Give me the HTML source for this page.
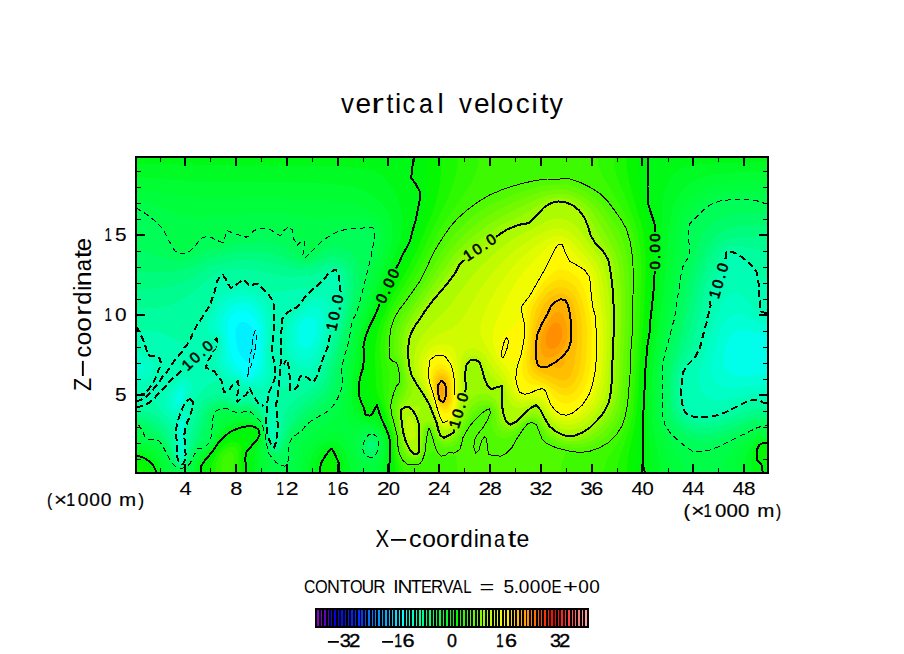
<!DOCTYPE html><html><head><meta charset="utf-8"><style>html,body{margin:0;padding:0;background:#fff;width:904px;height:654px;overflow:hidden}</style></head><body><svg width="904" height="654" viewBox="0 0 904 654" style="position:absolute;left:0;top:0"><rect x="0" y="0" width="904" height="654" fill="#fff"/><rect x="135" y="156" width="634" height="318" fill="#10f800"/><rect x="135" y="156" width="634" height="318" fill="#00f0ff"/><path fill="#00ffff" fill-rule="evenodd" d="M768.5 473.5l-633 0l0-317l633 0l0 317zM249.7 363.5l1.8-3.5l2.6-11.5l1-9l-0.1-7l-4.5-6.4l-2.7-2.6l-3.3-1.6l-3 0l-3.8 2.6l-2 5l-0.3 6l1.1 8.8l1.7 6.2l2.3 4.7l4 4.7l5.2 3.6z"/><path fill="#00ffea" fill-rule="evenodd" d="M768.5 473.5l-633 0l0-317l633 0l0 317zM250.1 376.5l4.8-6l2.8-8l2.5-20l-0.2-11l-3.5-10l-4-6.2l-6-4.1l-6-0.6l-4 1.2l-3.7 2.7l-3 4l-1.5 4l-0.4 7l2.8 21l1.8 7.4l3.8 6.6l9.5 12l1.7 0.9l2.6-0.9z"/><path fill="#00ffd4" fill-rule="evenodd" d="M768.5 473.5l-633 0l0-317l633 0l0 177.3l-8-0.6l-16-3.5l-5 0.3l-3.9 1.5l-4.5 4l-3.7 6l-2.9 8.5l-1.1 8.5l0.7 6l2.1 5l3.3 3.5l4 2l5 1.1l5 0.1l25-2.4l0 99.7zM250.4 379.5l3.1-1.2l3.6-2.8l2.7-4l1.7-5l1.3-8l0.9-16l-0.4-15l-2.8-11.1l-2-4.1l-3-4l-3-2.6l-4-2.1l-4-1l-5 0.1l-7 2.3l-6.2 5.5l-4 8l-0.8 8l3.6 13l1.1 17l2.3 7l4.6 6l11.4 8.9l3 1.2l2.9-0.1zM306.2 348.5l3.3-1.6l3-3.4l2.4-5l1.5-6l0.5-5l-0.6-5l-1.8-3.5l-3-1.9l-4 0.2l-5 3.1l-3.3 4.1l-2.1 6l-0.2 7l1.7 6l3.3 4l4.3 1zM178.8 403.5l1.7-1.7l2-5.3l0-3.3l-1-1.7l-1-0.3l-2.9 2.3l-1.3 4l0.5 5l0.7 1l1.3 0zM180.5 440.5l2.4-16l-0.4-3.6l-1 0.5l-1 2l-1 4.1l1 13z"/><path fill="#00ffc4" fill-rule="evenodd" d="M768.5 473.5l-633 0l0-101.8l7-0.7l1.8-1.5l0.7-2l-0.7-2l-1.8-1.4l-7-0.9l0-206.7l633 0l0 167.4l-5-0.3l-5-1.2l-18-8.5l-6 0.1l-4.7 2.5l-6.3 7.7l-5.6 12.3l-5.3 19l-1.7 13l1 7l2.1 5l4.5 4.8l5 2.5l10 1l22-3l13-0.7l0 88.4zM254.6 382.5l3.9-1.6l3-2.6l2.8-4.8l1.4-5l1.5-35l-1.2-16l-3.5-10l-6-7l-4-2.5l-5-1.7l-5-0.5l-5 0.6l-8 2.5l-5 3.7l-5.5 7.9l-3.5 9l-0.5 4l0.4 4l5.2 9l1.4 4l-0.5 20l3 7.1l6 6.3l9 4.1l6 4l4 0.8l5.1-0.3zM308.1 358.5l4.4-3.3l5.1-7.7l3-8l2.6-13l0.4-7l-1.2-6l-2.9-4.3l-4-2l-3 0l-4 1.4l-10.7 7.9l-4.5 6l-2.3 8l0.2 12l1.1 5l2.2 4.5l3 3.8l4 2.7l3 0.7l3.6-0.7zM177.6 409.5l3.9-5l4.9-11l0.2-3l-0.8-3l-1.3-1.8l-2-1.2l-3 0.4l-3 2.4l-2.7 4.2l-1.8 5l-0.3 5l1 4l2.8 3.9l2.1 0.1zM181.7 454.5l1.4-5l-0.1-19l2-11l-0.4-3l-1.1-0.8l-3 3.9l-2.3 8.9l0.8 22l1.5 4l1.2 0z"/><path fill="#00ffb4" fill-rule="evenodd" d="M768.5 473.5l-633 0l0-90.1l7-0.8l5-2.9l4.5-6.2l1.8-7l-0.5-3l-2.4-3l-5-3l-5.4-4.5l-5-0.8l0-195.7l633 0l0 161.2l-6-0.7l-4.6-2.5l-2.9-3l-8.5-12l-6-5l-3-1.1l-4 0l-6 2.9l-3 3.1l-3 4.8l-5.6 13.3l-10.2 33l-6 17l-1.6 10l0.9 8l3.5 7.4l5 4.7l7 2.9l6 0.6l6-0.6l27-6.7l15-0.1l0 79.8zM259.6 387.5l3.9-2.2l3-3.7l2.4-5.1l1.1-5l-0.3-24l0.9-26l-0.6-8l-1.5-6.2l-2.3-4.8l-3.7-4.8l-5-4.2l-4-1.9l-11-2l-17 3.6l-4 2.6l-4 5.7l-7.5 15l-2.4 8l0.3 5l1.5 3l2.4 2l5.7 2.5l1.9 3.5l-0.1 5l-3.3 13l0.5 6l5.1 8l6.1 6l2.8 1l8 0.6l4 4.2l3 1.7l11 1.8l3.1-0.3zM309.7 367.5l2.8-1.8l3-3.7l6.9-13.5l2.4-7l5.5-23l0.1-8l-1.9-6.9l-3.1-4.1l-4.9-2.2l-5 0.4l-5 2.4l-17 13.9l-5 6.4l-2.2 7.1l-0.5 8l0.4 11l0.6 4l1.6 4l6.1 8.7l4 3.7l6 1.5l5.2-0.9zM176.4 415.5l2.1-2.5l7.3-13.5l4.3-5l1.7-4l0.4-4l-1.3-4l-2.4-2.8l-3-1.4l-5 0.5l-5 3.5l-5.7 7.2l-3.3 7l-0.3 6l2.1 6l4.6 6l1.6 1.1l1.9-0.1zM182.8 458.5l1.2-3l0.4-5l-0.6-7l0.3-13l3.2-15l-0.5-3l-1.3-1.4l-2 0.5l-2.6 3.9l-2.7 7l-1 5l0.6 25l2.1 6l1.6 0.9l1.3-0.9z"/><path fill="#00fea1" fill-rule="evenodd" d="M768.5 473.5l-633 0l0-69.4l8.3-0.6l8.7-3.5l19.2 22.5l2.3 3l1 3l1.3 24l1.3 6l1.9 3.2l3 1.3l2.8-5.5l1.1-28l5.5-20l0.4-8l13.2-14.9l4-2.9l5-1.9l5-0.4l5.3 9.1l2.7-0.2l5-2.7l4 1.6l1 2l0.4 6.3l0.6 1.2l5-2.6l6-4.4l10 10.8l3 1.4l4-0.3l1 0.6l0.9 3.3l0.1 17l1 9.6l3 6l1 0l2-7.6l0.3-31l3.1-13l1.6-1.6l8-1.1l3 3l2-0.2l3-2.1l3-6.5l2-2.5l4 0l7 2.7l2-1.1l2-2.8l11.7-30.8l1.9-11l4.9-10l3.5-9l1.4-9l0.3-10l-1.9-18l-1.8-4.3l-2-1.9l-1.8 0.2l-3.4 2l-10.5 10l-7.3 5l-8-0.7l-7 0.2l-27 4.5l-2-1l-10-8.6l-7 0.6l-5-3.4l-3-0.7l-7 3.9l-4 0.8l-2-1l-5-5.8l-2-1.2l-3 2l-2 3l-9 24.5l-11.7 17.9l-7.3 14.8l-3 3.6l-8-1.9l-15-6.9l-7-2.4l-8-0.6l-8 1.7l-3-2.4l-2 0l0-173.9l633 0l0 123.3l-8-0.4l-1-0.7l-2.2-5.2l-3.5-5l-8.3-8l-5.5-4l-3.5-2l-5-1.3l-2.5 0.3l-1.1 1l-5 12l-9.4 18.3l-2 5.2l-1.6 6.5l0.4 10l-10.2 40l-4.7 10l-6.9 8l-4.8 8l-1.5 15l0.3 15l2 6.7l4 5l8 2.4l8 0.1l13.5-2.2l8.5-3l18-8.6l9-2.9l4 0l7 2.8l4 0.2l0 70.5z"/><path fill="#00fc8e" fill-rule="evenodd" d="M768.5 473.5l-633 0l0-62.3l10 0.2l6 1.4l6 3.7l7 6.9l3.7 5.1l2.6 6l4 20l1.9 6l2.8 3.2l3 1l1.8-1.2l2.2-5l6.1-33l5.9-17.5l2.5-4.5l3.6-4l3.9-2.8l5-1.8l5-0.1l10 2.1l3 1.4l6 5l8-2.3l5 0.2l9.4 6.3l2.7 3l1.6 4l2.3 18l3 9.8l3.4 5.2l1.6 0.6l1.2-0.6l1.4-2l1.7-5l6-26l3.7-7.9l6.7-7.1l21.3-14.8l2.8-3.2l2.7-5l9.5-28.4l3.1-12.6l7.4-20l1.7-9l0.9-12l-0.4-10l-1.4-9l-3.3-5.7l-4-2.3l-6 0.4l-12 5.5l-6 1.9l-15 1.6l-16-1l-30-6.6l-9-0.4l-15 0.5l-6 1l-6 3l-23 20.3l-8 5.5l-8 4.2l-8 2.7l-8 1.6l-24 1.1l0-152.3l633 0l0 94.2l-8-0.5l-19-3.8l-8-0.5l-4 0.6l-4 1.7l-5 5.3l-9 18.3l-5.9 14.7l-2 8l-3.7 22l-6.2 24l-3.7 10l-7.5 13.9l-2.9 7.1l-1.5 10l-0.3 9l0.6 13l2.9 9l5.2 5.8l5 2.3l5 1.4l8 0.6l10-1.1l10-2.6l26-9.9l7-1l11 0.2l0 65.3z"/><path fill="#00fc7c" fill-rule="evenodd" d="M768.5 473.5l-633 0l0-57.8l7 0.5l6 1.9l6 3.7l7 6.3l4 5l3 5.7l6.8 21.7l3.5 4l3.7 1.1l2.2-1.1l2.8-5l11.6-39l3.5-9l2.4-4l3.5-3.7l4-2.5l4-1.3l5-0.3l5 0.7l11 4.7l8-0.9l4 0.3l7 3.8l4 4.1l2.5 5.1l1.7 6l1.6 11l3.2 10l2 3.3l2 1.5l2 0.1l2-1.1l2.6-3.8l7.7-21l5.5-10l7.2-8l18-15.2l4-4.8l3.4-6l19.6-66l2.4-13l0.9-13l-0.7-9l-2-7l-3.6-5l-6-3.3l-4-0.5l-4 0.4l-17 5.5l-10 1l-11-1.5l-29-7.1l-16-1.2l-16 1.4l-13 3.2l-8 3.6l-21 12.1l-15 5.6l-16 2.9l-21 0.8l0-132.9l633 0l0 80.8l-25-0.6l-12 1.4l-5 1.8l-5 2.9l-4.1 3.7l-3.9 5.3l-7.7 15.7l-6.2 17l-10.7 49l-3.7 12l-9.3 25l-1.4 9l-0.4 11l1 15l1.3 5l2.4 5l3 4l3.7 3.1l5 2.8l6 1.9l9 1l10-1.1l10-2.7l26-9.6l8-1.5l9-0.3l0 60.4z"/><path fill="#00fd69" fill-rule="evenodd" d="M768.5 473.5l-633 0l0-53.8l5 0.4l5 1.9l15 11.7l6 8.1l8 19.7l4 4l4 0.9l3.3-1.9l2.6-4l4.3-12l6.7-13l5.6-18l2.7-6l4.8-5.3l7-2.8l7 0.2l11 3.6l12-0.1l5 2.6l4.7 4.8l3.5 6l4.3 19l3.5 9l2 2l2 0.8l3-0.3l2-1.1l2.6-3.4l6.4-14.9l7.4-11.1l7.1-8l18.5-16.3l4.5-5.7l3.3-6l2.5-7l4.4-19l14.2-51l2.3-13l0.8-12l-0.8-9l-2.5-7l-4.7-5.9l-6-3.2l-5-0.9l-6 0.5l-18 6.5l-7 0.8l-6-1.2l-23-8.9l-8-1.9l-8-0.9l-20 0.7l-21 4.1l-9 2.9l-20 9.1l-11 2.8l-12 0.9l-30-0.7l0-114.7l633 0l0 68.8l-25 0.3l-14 2.7l-6 2.5l-6 3.8l-5 4.7l-4.4 6.2l-9.3 21l-5.3 16l-9.1 44l-12.2 41l-1.5 10l-0.4 13l1.1 17l1.6 6l2.4 5l3.7 5l4.4 4l6 3.6l6 2.3l9 1.2l11-1.2l11-3.3l26-10.2l8-1.7l8-0.5l0 55.8zM372.6 448.5l1-2l-0.1-2.5l-1-1.7l-2-0.4l-2 2.3l-0.1 3.3l2.1 1.9l2.1-0.9z"/><path fill="#00fe58" fill-rule="evenodd" d="M768.5 473.5l-633 0l0-50.6l4 0.3l2.6 1.3l9.1 8l9.3 6.1l4.4 5.9l6.3 14l3.2 5l4.1 3.2l4 0.7l3-1.4l2.5-2.5l7.1-15l5.6-6l2.7-4l2.4-6l3.2-14l2.2-6l3.8-4l5.5-2.3l6 0.1l11 3.3l11-0.6l3.6 1.5l6.4 6.4l4 6l4.8 20.6l2.7 7l2.5 2.7l3 1.3l3 0.1l3-1.3l2.8-3.8l3.5-10l2.7-4.8l14-15.4l20.5-16.8l4.8-6l3.8-7l2.6-8l1.7-13l2.3-11l8.6-34l6.8-22l2.7-15l1-12l-1.2-11l-3.6-7.8l-6-5.5l-8-2.6l-6 0.1l-6 1.4l-6 2.6l-13 7.6l-5 1.1l-4-1.2l-9-7.6l-8-4.7l-11-3.6l-9-1.5l-27 2.4l-13 3.7l-13.9 1.6l-6.1 2.2l-14 7.1l-9 2.1l-9-1l-24-7.6l-12-1.1l0-94.7l633 0l0 57.3l-27-0.3l-9 1.2l-8 2.3l-8 3.8l-6.2 4.7l-5.5 6l-3.9 7l-5.6 18l-6.9 19l-8.6 45l-10.8 40l-2 12l-0.6 18l1 20l1.5 6l2.6 6l4 5.5l6 5.6l7 4.6l6 2.5l9 1.3l11-1.6l12-4.2l28-12.1l8-2l6-0.3l0 51.7zM370.6 453.5l3.9-2.2l2-4.8l-1-5.5l-2-2.6l-2-0.7l-2 0.5l-2 1.9l-1.7 3.4l-0.5 3l0.2 2.4l1.3 2.6l1.7 1.5l2.1 0.5z"/><path fill="#00fe48" fill-rule="evenodd" d="M768.5 473.5l-583 0l0-5l4.7-5l7.3-14l6-2.3l6-5.7l1.4-6l2-16l1.4-5l1.4-2l3-2l2.8-1.1l4-0.2l10 3.2l5 0.1l8-0.9l2 0.9l8 7.5l3 3.9l2.2 6.6l3.8 19.3l2 4.7l6 7l4 2.7l4 1.1l2-1.1l2.1-3.7l1.7-14l1.2-4.5l2-3.8l9.6-7.7l6.4-7.1l19-12.1l4-3.5l4-5.7l5.4-12.6l1.2-7l-0.5-12l1.1-7l6.6-25l1.7-11l2-7l5.3-13l6.8-27l5.7-25l1.8-10l0.7-10l-1.6-6l-2.2-0.7l-6-0.3l-20 1.8l-8 2.3l-11 6.3l-11 9.6l-5 2.9l-3-1.6l-2-7.6l-2-0.2l-3 1l-2-0.8l-2-3.1l-3-8.7l-2-1.8l-2-0.1l-6 4.9l-2 0.6l-10-4.4l-5-0.9l-5 0l-5 1.8l-5 4.2l-3 1.3l-11-2l-7-2.1l-2 1.7l-4 7.1l-3-0.3l-10-3.6l-4 0l-5 2.3l-12.2 11.4l-3.8 1.6l-5 0.3l-3.5-1.9l-1.5-1.7l-11.7-19.3l-5.3-6l-13.7-10l-5.6-3l-2.7-0.2l0-53.8l633 0l0 46.8l-4-0.2l-8-2.2l-8-1.1l-18 0.1l-10 1.5l-11 4.3l-6.1 4.8l-12.9 13.6l-1.5 7.4l-0.2 8l0.8 10l-0.5 5l-4.8 9l-2.4 8l-7.6 48l-10.4 40l-1.2 9l-0.2 24l0.3 22l2.7 10.7l5 7.6l7.5 7.7l6.5 5.4l9 5.4l8 0.7l9-1.7l9-3.6l37-18.6l8-2.2l4-0.2l0 47.8zM175.5 473.5l-40 0l0-46.6l2 0l2 1.1l5.8 8.5l2.2 1.9l9 1.9l4 3.2l9.5 17l5.7 7l0.4 1l-0.6 5zM371 457.5l2.5-1.2l3-3l1.8-3.8l0.3-3l-0.4-5l-1.7-4.1l-2-2.3l-3-1.2l-4.1 1.6l-2.8 3l-1.8 4l-0.6 5l0.5 3l2 4l2.8 2.3l3.5 0.7z"/><path fill="#00fe3d" fill-rule="evenodd" d="M683.5 473.5l-389.4 0l0.6-7l2.3-11l2.1-6l2.7-5l4.7-5.9l6-5.7l17-11.4l4-3.3l4-5.5l3.1-7.2l4-15l1.9-24l8-38l8.8-25l14.6-53l1.7-13l-0.4-5l-1.4-5l-3.3-4.2l-5-2.8l-8-2.2l-10-1.3l-10-0.1l-26 1.1l-27-3.4l-24-0.7l-66 3.4l-10-0.7l-9-1.9l-30-11.4l-7-1.7l-7-0.6l0-44.5l633 0l0 35.1l-22-0.9l-13 0.3l-12 1.6l-9 2.5l-9 4.6l-8.3 6.8l-7.7 9.7l-3.8 8.3l-1.4 8l-1.3 19l-4.7 20l-6.9 46l-9.1 42l-1.1 12l-0.4 33l0.4 12l2.5 11l4.8 9.8l14.9 24.2l2.4 7l0.3 5l-0.6 0zM271.5 473.5l-81.3 0l0-2l1.4-5l6.9-13l7-4.9l5.3-5.1l5.7-17.2l4-6.2l3.9-2.6l4.1-1.2l16-0.6l4 0.6l5 2.5l5.8 4.7l2.5 4l1.9 8l1.6 16l5.9 16l0.7 4l-0.4 2zM369.6 464.5l4.9-3l4-5.3l2.1-5.7l0.3-6l-1.1-6l-3-5l-4.3-2.7l-5-0.6l-5.3 1.3l-4.3 3l-2.1 4l-0.5 5l1.5 8l3.7 7.8l5 4.8l4.1 0.4zM768.5 473.5l-46.5 0l0-2l1.1-6l3.5-7l5.4-7l7-7l8.5-6.6l8-4.6l7-2.3l6-0.5l0 43zM169.5 473.5l-34 0l0-33.3l5 0.5l10.8 3.8l6.5 4l5.5 7l4.3 8l2.1 6l-0.2 4z"/><path fill="#00fe32" fill-rule="evenodd" d="M669.5 473.5l-293.8 0l0.6-5l4.8-11l1.8-7l0-8l-2-7l-3.4-4.8l-5-3.2l-6-1.2l-13-0.6l-3.7-1.2l-2.6-4l-0.9-9l3.9-42l6.6-36l23.9-72l4.1-16l0.8-8l-0.4-7l-1.7-6l-3.5-6l-6.5-6.3l-8-4.5l-10-3.4l-13-2.3l-66-3.9l-78 0.4l-17-1.8l-32-5.7l-14-0.9l0-33.6l633 0l0 25.2l-25-0.1l-14 0.7l-12 1.9l-11 3.4l-9.2 4.9l-8 7l-6.6 9l-4.3 10l-2.4 11l-1.9 21l-8.8 63l-8.1 44l-1.6 20l-0.5 31l0.9 13l2.8 12l9.8 27l1.6 9l0 4l-0.7 0zM264.5 473.5l-71.1 0l0-2l1.3-6l3.8-7.7l3-3.9l10-9.2l6-12.9l4.5-6.3l3.5-2.8l5-2.2l7-1.3l7-0.3l6 1.1l5 2.4l3.6 3.1l2.3 4l1.2 7l-0.3 15l3 18l0.1 4l-0.9 0zM357.5 473.5l-55.5 0l0.3-6l1.3-7l2.5-7l3.4-6l5-5.6l6-4.7l6-3l7-2l6-0.4l4 1.7l3 5.1l10.3 27.9l0.9 4l-0.2 3zM768.5 473.5l-33.5 0l0.4-6l1.7-7l3.2-7l3.9-6l4.5-5l5.8-4.5l5-2.4l6-1.2l3 0l0 39.1zM165.5 473.5l-30 0l0-28l6 0.4l6 1.7l5 2.4l4 3l4 4.7l3.2 5.8l1.6 5l0.2 5z"/><path fill="#00fc24" fill-rule="evenodd" d="M659.5 473.5l-278.3 0l0.5-6l3.5-18l-0.3-8l-1.5-6l-3.5-6l-4.4-4.2l-4-1.9l-10-2.7l-5.5-4.2l-2.2-4l-1.2-4l-1.1-13l1.7-20l4.5-31l2.1-10l16.9-48l11.1-29l4.3-16l0.8-10l-1.1-9l-3.1-9l-5.2-8.4l-8-7.9l-10-6l-12-4l-15-2.6l-20-1.5l-34-1.2l-84-0.4l-49-3.6l-16-0.4l0-21l633 0l0 15.5l-26 0.1l-17 0.9l-14 1.9l-11 3l-9.5 4.6l-7.5 6.2l-6 8l-4.4 9.8l-3.4 16l-6.4 69l-4.7 36l-4.7 28l-1.9 23l-0.7 29l0.5 15l1.7 11.8l5.9 27.2l0.9 10l0 2l-0.8 0zM259.5 473.5l-63.4 0l0-2l1.1-6l2.8-6l11.8-13l6.7-11.3l4-5.1l4-3.4l5-2.6l7-1.9l6-0.5l6 0.7l5 1.7l3.7 3.4l1.8 4l0.4 5l-2.4 14l0.5 23zM768.5 473.5l-24.7 0l1.4-14l4.2-11l3.7-5l3.4-2.9l4-1.9l4-0.9l4-0.1l0 35.8zM350.5 473.5l-41.9 0l0.4-7l1.7-7l4.1-8l6.7-6.8l7-3.4l4-0.4l3 0.6l3 1.5l2.8 2.5l4.3 7l4.2 12l0.7 9zM161.5 473.5l-26 0l0-23.9l5 0.2l5 1.2l5 2.2l4.4 3.3l3.5 4l2.1 4l1.3 5l0.2 4l-0.5 0z"/><path fill="#00fa16" fill-rule="evenodd" d="M651.5 473.5l-266 0l1.9-27l-0.4-6l-1.5-6l-3.6-7l-4.4-5.4l-4-2.4l-8-1.6l-4.2-3.6l-4.5-11l-1.6-12l1-12l3-16l1.5-19l2-9l3.4-10l7.7-18l6.5-19l15.5-35l3.8-11l1.8-8l0.9-15l-1.8-13l-4.4-12l-7.6-12.3l-6-6.2l-7-4.2l-9-2.8l-12-1.8l-41-1.7l-109-0.5l-69-1l0-7.5l633 0l0 5.9l-56 0.8l-16 1.5l-11 2.3l-6 2.5l-5.2 4l-4.6 6l-3.7 8l-2.5 8.2l-1.4 8.8l-0.4 28l-2.4 50l-5 47l-4 26l-2 25l-0.8 46l4 40l0 7zM253.5 473.5l-55.1 0l0-3l1.4-6l2.1-4l10.3-12l7.3-10.9l5-5.2l5-3.7l6-2.6l7-1.8l5 0l6 0.7l3 1.3l2.1 2.2l1.6 4l-0.6 6l-3 7l-1.4 5l-1.2 23l-0.5 0zM768.5 473.5l-17.1 0l0-15l1.6-8l1.8-4l2.5-3l5.2-2.5l6-0.3l0 32.8zM344.5 473.5l-30.2 0l0.6-8l1.8-6l3.6-6l4.2-4.4l4-2.5l3-0.7l3 0.9l3.1 2.7l3.3 5l2.8 7l1.3 7l0.1 5l-0.6 0zM158.5 473.5l-23 0l0-20.3l5 0.2l4 1l8 4.5l3 3.3l2 3.5l1.1 3.8l-0.1 4z"/><path fill="#00f70a" fill-rule="evenodd" d="M643.5 473.5l-254.1 0l-0.1-32l-1.5-8l-11.3-24.4l-1 0.1l-5 4.4l-3 0.2l-1-0.7l-7-17.5l-0.4-10.1l1.8-10l2.6-9l0.4-21l2-9l3.6-9.6l8.4-18.4l6.6-19.2l25.1-47.8l6.3-24l2.9-15l0.1-9l-0.4-3.1l-6.8-12.9l-0.1-5l1.7-16l234.6 0l0.1 45l6.5 23l0 55l-3.8 38l-0.3 11l-2.7 16l-3 34l-0.2 19l-0.8 5l-0.2 15l-0.9 8l0 37l1.7 9l0 2l-0.8 0zM246.5 473.5l-45.5 0l0-3l1.1-5l2.3-4l18.1-23.3l7-5.5l6.8-3.2l7.2-2.1l7.6 0.1l3.4 0.7l1.6 1.3l1.4 2l0.4 3l-1.2 4l-7.9 11l-1.3 2.9l-1 5.5l0.5 13.6l-0.5 2zM768.5 473.5l-6.8 0l-0.9-7l-3.2-6l-1-4l0-5l0.9-2.7l2-3.3l3-1.5l6-0.3l0 29.8zM339.5 473.5l-20.1 0l1.1-9l1.2-3l4.8-7.2l4-3.6l1.1-0.2l1.9 1.8l4.4 8.2l1.7 6l-0.1 7zM154.5 473.5l-19 0l0-16.9l5 0.3l3 0.9l7.3 4.7l4 6l0.5 5l-0.8 0z"/><path fill="#06f800" fill-rule="evenodd" d="M634.5 473.5l-241.9 0l-1.6-34l-1.2-6l-10.1-28l-7.8-8l-3.1-8l-0.7-9l1.6-34l1.3-8l2.4-8l13.5-34l26.6-51l8.9-25l4-15l1.6-11l-0.7-38l209.9 0l0.7 18l2.4 21l1.9 10l5.2 18l1.3 8l1.1 18l0.4 25l-3.6 52l-3.9 38l-2.9 50l-4.1 39l-0.6 20l-0.6 0zM243.5 473.5l-37.4 0l0.3-5l1.1-4l7.1-12l7.9-9.9l4-3l5-2.4l5-0.9l4 0.6l3 1.8l1.8 2.8l0.3 4l-2 11l-0.1 17zM768.5 463.5l-2 0l-2-1l-3.7-5l0.1-5l1.6-2.4l2-1.2l4-0.3l0 14.9zM335.5 473.5l-12.1 0l1.1-8.9l1.9-3.1l2.1-1.7l3-0.3l3 3l1.6 5l0.1 6l-0.7 0zM150.5 473.5l-15 0l0-12.3l6 0.5l5.5 2.8l2.9 4l0.6 5z"/><path fill="#1af900" fill-rule="evenodd" d="M625.5 473.5l-229.6 0l-4.2-39l-9.5-30l-4.3-10l-1.7-7l-1.4-32l0.9-14l3.6-15l8.2-20.3l6-12.6l13.8-24.1l9.1-18l16.1-39l4.1-13l2.8-13l1.8-15l0.6-15l184.5 0l0.7 13l2.5 14l4.5 17l7 22l2.3 10l1.8 17l0.8 24l-2.9 53l-2.6 27l-3.9 58l-2.9 19l-6 28l-1.2 15l-0.9 0zM240.5 473.5l-29.7 0l0.8-9l3.5-8l6.4-8.9l3-2.7l4-2.2l4-1l4 0.4l3 1.9l1.4 2.5l0.6 5l-1 22zM141.5 473.5l-6 0l0-4.8l5.4 0.8l1.3 2l0 2l-0.7 0z"/><path fill="#2dfa00" fill-rule="evenodd" d="M616.5 473.5l-216.9 0l-0.6-6l-3.5-14.2l-2-17.8l-6.2-21l-3.8-20l-1.2-20l-2.3-20l0.3-10l1.1-9l3.1-12l6-14.4l24.4-42.6l33.2-69l4.6-12l2.9-10l1.8-10l0.4-9l156.1 0l0.7 10l2.6 11l16.4 41l4.1 13l2.8 18l1.2 23l-2.4 57l-5.9 80l-4 20l-11.1 31l-1.8 13zM236.5 473.5l-21 0l0.5-10l2.6-7l4.9-6.5l6-3.3l5 0.4l2 1.5l1.4 2.9l0.5 8l-1.3 14l-0.6 0z"/><path fill="#3efa00" fill-rule="evenodd" d="M603.5 473.5l-199.3 0l-0.6-5l-6.1-14.8l-2-17.2l-5.8-21l-1.4-8l-0.1-11l1.8-20l-1.1-7l-3.5-11l-0.5-7l0.5-13l1.8-11l3.1-9l3.8-8l21.6-34l22.8-44.3l8-13l18.8-26.7l6.8-11l5.3-13l1.3-12l118.9 0l0.9 9l3.3 9l18.7 31.4l9.5 18.6l3.3 10l2 10l1.3 11l1 18l-1.9 59l-4.4 67l-1.9 14l-3.3 13l-6.2 13l-13 20l-2.5 7l-0.9 7zM231.5 473.5l-9.7 0l-0.7-9l0.8-5l3.1-5l4.5-2.4l2 0.3l1.4 1.1l1.5 4l-0.3 4l-2.6 12z"/><path fill="#50fa00" fill-rule="evenodd" d="M559.5 473.5l-102.2 0l-0.3-9l-1.3-8l-5.8-1l-3.4 1.7l-5 0.9l-4.2-2.6l-3.8-4.8l-5 3.3l-4.1 7.5l-2.9 2.7l-2 1l-4 0.5l-5-0.5l-3-0.9l-2-1.3l-4-5.2l-2.7-7.3l-1.1-6l-0.5-8l-5.5-22l-0.9-7l0.8-7l1.9-7l2.3-6l2.8-5l0.2-7l-1.2-8l-1.1-2.9l-5-4.7l-1.5-2.4l-0.5-17l1.7-13l2.8-8l3.7-7l21.9-31l13.1-27l9.5-16l10.3-14.4l10.5-10.6l10.5-8.5l9-6.2l8-4.7l14-6.1l17-5.3l19-4.4l24-0.8l5 0.4l11 4l10 5.2l9.5 6.4l8.5 8.7l14.3 20.3l4.2 9l3 10l1.2 7l2.2 20l0 24l-0.8 8l-0.2 33l-1.8 19l-0.3 20l-1 13l-2.2 21l-4.7 18l-4.6 8l-4.3 5.5l-4 3.9l-9 5.6l-11 4.4l-7 1.4l-15-0.7l-2 0.6l-3.9 10.3l-1.1 10l-1 0z"/><path fill="#62fa00" fill-rule="evenodd" d="M417.5 460.6l-3 0.8l-4-0.2l-5-2.9l-3.3-4.8l-2.9-10l-0.8-8l-4.4-21l-0.4-7l1.8-7.9l6-15.1l0.3-8l-1.8-11l-5.5-12l-0.7-7l0.4-8l2.1-11l4.8-11l22.6-33l18.8-33.1l14-18.4l15-14.3l9.8-7.2l9.2-5.8l20-9.3l27-8.7l9-1.6l11-0.7l8 0.2l7 1.4l8 3.1l7.9 4.4l7.1 5.3l7 7.1l7.9 10.6l6.8 11l3.8 8l3.4 10l2.4 11l1.6 12l0.8 19l-0.5 40l-3 56l-1.2 13l-2.2 12l-3.2 10l-4.1 8l-6.5 8.1l-8 6.3l-10 4.8l-10 2.3l-8-0.1l-6-0.9l-8-2.2l-7-3l-6.3-5.3l-7.7-12.8l-3-2.1l-2-0.6l-3 0.4l-3 1.2l-10 10.1l-5 3.7l-4 1.6l-5 0.1l-5-2.2l-4-4.7l-1.8-6.7l0.5-13l-1.7-3.5l-2-0.8l-2 0.1l-6 2.6l-6.4 5.6l-6.8 9l-9.8 18l-3 3l-3 1.6l-6 0.9l-5-1.7l-4-4.7l-5.4-12.1l-1.6-1.5l-1.7 0.5l-1.5 3l-0.9 5l-1.6 15l-2.7 6l-3.6 3.1z"/><path fill="#73fa00" fill-rule="evenodd" d="M415.5 458.7l-4-0.1l-3-1.3l-3-2.9l-2.2-3.9l-2.5-8l-4.8-29l0.8-8l6.1-15l1.7-8l-1.4-13l-5-18l0.1-13l3.5-13l6.9-13l18.9-27l16.9-27.3l8-11l16-16.7l18-13.9l12-7.1l13-6.2l21.3-8.8l12.7-3.8l11-1.4l10 0.6l8.9 2.6l8.1 4.2l7 5.3l6.3 6.5l6.6 9l7.3 12l5.1 10l3.5 9l2.5 9l1.8 11l1.4 19l0.1 34l-2.9 61l-1.3 13l-2 10l-3 9l-4.1 8l-8.3 10l-5 4l-6 3.6l-6 2.5l-6 1.4l-7 0.6l-6-0.5l-9-2.4l-7.8-4.2l-5-5l-6.8-10l-2.4-2l-3-1.2l-3-0.1l-4 1.4l-9 7.7l-5 3l-5 1l-5-1.2l-3.3-2.6l-2.4-4l-2.3-13l-1.7-4l-3.3-2.6l-6-0.3l-6 2.8l-5 4.6l-6 8.6l-9.2 16.9l-2.8 3.3l-4 2.5l-5 0.8l-5-1.9l-4-4.6l-5-9.9l-2-1.2l-2.9 1l-2.1 5l-2.3 20l-2.7 4.2l-4 2z"/><path fill="#86fa00" fill-rule="evenodd" d="M415.5 456.6l-3-0.1l-3-1.4l-2.7-2.6l-2.3-4.2l-2.2-6.8l-3.3-16l-1.1-12l0.7-6l7-13l2.1-8l-0.6-8l-5.1-26l0.1-13l3.3-12l6.5-12l42.6-61.3l15-15l18-14.1l18-10.6l32-15.5l10-3.7l9-1.4l8 0.3l8 2.1l7 3.5l7.2 5.7l6.2 7l14.6 24.4l7.9 16.6l2.3 8l1.6 9l1.6 19l0.6 30l-2.3 56l-1.3 16l-1.8 10l-2.9 9l-4.7 8.9l-8.5 10.1l-10.5 7.5l-11 3.8l-6 0.7l-6-0.4l-8-2.4l-7-4l-4.3-4.2l-7.7-10.5l-5-3l-4-0.1l-4 1.5l-13 9.5l-4 0.9l-4-0.9l-3-2l-2.4-3.4l-3.9-14l-2.7-4.6l-5-3.1l-7-0.3l-6 2.6l-5 4.9l-5 7.9l-8.3 17.6l-2.7 3.5l-4 3l-5 1.2l-4-1.1l-3.8-3.6l-5.2-10.2l-3-1.7l-2 0.1l-2 1.2l-1.6 2.6l-0.8 3l-1.8 20l-1.8 3.4l-4 1.7z"/><path fill="#9afa00" fill-rule="evenodd" d="M417.5 454.6l-3 0.4l-3-1l-3-2.8l-2.2-3.7l-3.9-12l-2.2-11l-0.4-8l0.7-8.2l9.1-10.8l2.4-6l-0.2-6l-5.4-22l-1.2-18l0.5-6l1.8-7l6-11.8l9-13.6l21-27.6l13.6-20l13.4-12.2l18-14l14-9.1l23-10.6l15.2-10.1l8.4-4l6.4-1.5l7 0.1l7 1.5l7 3.4l5.7 4.5l5.8 7l10.7 20l8.9 14l4.6 10l2.6 12l2.4 23l0.8 25l-2.2 55l-1.2 17l-1.8 10l-2.5 7l-4 8l-8.8 10.6l-10 7.7l-10 4.1l-11 0.7l-6.4-2.1l-7.6-4.2l-4.8-4.8l-7.2-10.2l-3-2.6l-3-1.1l-4 0.3l-4 1.7l-9.6 7.9l-3.4 2l-3 0.8l-3.3-0.8l-2.7-1.9l-1.5-2.1l-5-17l-3.5-6l-3-2.2l-5-1.8l-4-0.7l-4 0.4l-5 2.5l-5 5.6l-5 9.6l-8 20.4l-2 2.6l-4 2.8l-4 1.4l-4-1.1l-2.6-2.5l-3.8-9l-2.6-3.5l-4-1.9l-4 1.4l-2 2.9l-1 4.1l-1.1 21l-0.9 2.5l-2 1.6z"/><path fill="#adfb00" fill-rule="evenodd" d="M570.5 435.5l-3 0.3l-4.4-1.3l-9.7-5l-4-4l-9.9-15.8l-4-2.9l-5 1.7l-16 12.9l-4 1.3l-2.7-1.2l-2.3-3.9l-2.2-7.1l-1.3-7l-0.4-13l-0.9-2l-2.2-1l-7 1l-3-1.9l-5.5-10.1l-4.5-11.6l-2-2.4l-2-0.6l-4 1l-2 2.7l-1 3.3l-1.6 21.6l-8.3 29l-3.5 10l-1.6 2.8l-2.9 2.2l-4.1 1.8l-2-0.1l-3-2.3l-8-19.2l-10-20.2l-10-18.1l-3.6-13.9l0.3-20l1.3-6.2l3-6.9l16-23.7l20.8-25.2l4.9-7l5.8-10l15.5-12l28-20.1l12-5.6l13-3.3l15.3-15l7-4l5.7-1.2l9.4 1.2l6.2 3l5.4 4.2l5 6.4l4 8.6l3.9 10.8l3.9 6l7.2 8l5.2 9l2.6 11l3.1 25l1 27l-0.8 7l-0.2 18l-0.8 5l-0.2 20l-1.1 17l-2.2 11l-5.6 12l-5 6.3l-8.8 8.7l-8.2 5.2l-6 2.2l-5 0.6zM416.5 452.5l-2.2 0l-3-2l-4.8-8.3l-3.6-12.7l-1-12l0.5-7l1.4-2l2.7-1.5l5 0.4l6-1.5l2.4 0.6l0.9 2l-3.3 7l1.7 14l0 6l-0.7 14.4l-2 2.6z"/><path fill="#c0fb00" fill-rule="evenodd" d="M572.5 429.6l-5 0.2l-4-0.6l-8-3.7l-6-5.9l-8.4-12.1l-3.6-3l-4-0.5l-10 3.5l-4 0.7l-4-0.6l-3-1.6l-4.2-5.5l-3.5-12l-1.6-3l-7.4-5l-3.3-3.2l-11-18.3l-4-2.7l-4-0.7l-3 0.6l-3 1.8l-3.3 5.5l-1 6l-0.2 20l-4.6 22l-2.6 8l-2.8 6l-2.5 3l-3 1.6l-4-0.2l-2-1.3l-2.4-3.1l-8.7-22l-12.1-23l-3-8l-1.3-8l0.1-7l1.4-8.1l2.5-6.9l3.5-6.1l6-7.3l21-21.9l23.2-30.7l9.7-11l17.4-16l14.7-10.8l33-17.7l5-1.9l5-0.8l5 0.2l5 1.2l5 2.5l4 3.1l5 5.6l7.7 11.6l10.3 13.4l4 7.4l2.7 8.2l2.4 13l1.4 13l1.5 23l-0.5 25l-1.2 26l-1.6 16l-1.7 8l-2 6l-3 6l-7.7 10l-5.3 4.9l-5 3.5l-5 2.4l-5 1.3zM413.5 440.6l-2 0.4l-2-1.7l-2.1-3.8l-1.7-6l-0.1-9l0.9-2.5l2-1.7l2 0.3l2 2l2.7 6.9l0.6 9l-1 4l-1.3 2.1z"/><path fill="#d0fb00" fill-rule="evenodd" d="M448.5 426.5l-2 0.7l-3-0.3l-2-1.1l-2-2.3l-8.2-21l-10.6-24l-2-9l-0.1-8l1.5-7l3.3-7l4.1-5l5-4.3l6-3.6l14-6.8l6-4.9l5.5-7.4l16.7-27l8.7-12l13.1-15l14.3-13l18.1-12l8.6-4.6l6-2.4l6-1.2l5 0.1l5 1.3l5 2.5l8 7.3l17 22.1l4.7 9.9l3.1 14l3.4 36l0 22l-1 23l-1.5 15l-1.7 9l-3 9l-3.7 7l-8.3 9.9l-9 6.2l-5 1.8l-5 0.7l-5-0.5l-4-1.3l-7-4.9l-10-12.6l-4-3.1l-5-1l-12 1.4l-4-1l-3-1.9l-3.6-4.7l-5.4-11.9l-10-12l-11-16.3l-7-5.7l-4-1.3l-3 0l-3 1.1l-2 1.7l-2 3l-1.6 4.4l-1.2 9l0.2 21l-1.8 14l-2.1 10l-2.5 6.7l-3 4.9l-3 2.4z"/><path fill="#e0fc00" fill-rule="evenodd" d="M571.5 420.7l-8 0.1l-7-2.9l-5-4.4l-8-10.2l-4-3.1l-5-1.2l-12 0.5l-3-0.9l-3.1-2.1l-3.1-4l-7.8-16.2l-10.7-14.8l-9.9-17l-3.4-7l-1.4-6l0.1-5l1.3-6l5.4-14l9.9-18l11.2-16l11.6-13l13.8-12l13.1-8.6l5-2.2l5-1.1l7 0.7l7.2 4.2l16.8 18.9l6 8.4l3 6.7l1.8 7l4.3 35l0.8 24l-0.7 21l-1.5 16l-2.7 13l-4.5 11l-6.5 9l-8 6.7l-8 3.5zM447.5 424.7l-3 0.5l-2-0.5l-3-3.4l-14.4-37.8l-2.8-13l0.7-10l1.3-4l2.4-4l2.8-3.1l4-2.8l4-1.7l5-1l4 0.3l4 1.4l2.5 1.9l2.1 3l1.9 8l1.7 20l-0.3 19l-2.4 15l-3.5 7.8l-5 4.4z"/><path fill="#f0fc00" fill-rule="evenodd" d="M569.5 417.5l-3 0.4l-4-0.5l-6-2.7l-6-6.1l-6-8.7l-4-3.2l-5-1l-12 1l-3-1l-2.9-2.2l-2.7-5l-6.4-17.9l-9-10.5l-2.3-3.6l-3.3-9l-1.3-8l0.9-9.7l4-11.6l9.5-20.7l9.4-16l10.7-14l15.3-16l9.5-8l6.6-2.6l4 0.4l3.7 2.2l9.7 12l11.6 11.5l4.3 6.5l2.6 10l4.4 32l1 13l0.3 17l-0.6 16l-1.8 16l-3.1 13l-3.9 9l-6.2 8.6l-7.7 6.4l-7.3 3zM445.5 423.6l-2 0l-2-1.1l-1.6-3l-11.2-32l-3-13l0-8l1.9-8l4.9-5.4l3-1.5l4-0.8l4 0.2l3 1.1l3 2.4l2 2.8l2.8 7.2l2.2 15l0.4 19l-1.7 13l-3.7 8l-3 2.8l-3 1.3z"/><path fill="#fff800" fill-rule="evenodd" d="M569.5 413.5l-3 0.9l-5-0.8l-5-3l-5-6l-6-12.6l-3-2.2l-5 0.2l-12 3.5l-5-2l-2.1-4l-2.3-9l1.2-16l-0.8-1.2l-10-2.8l-4-2.7l-2.3-11.3l0.3-4.3l2-4.5l10.6-9.2l7.9-9l-0.1-9l2-5l6.6-9l25-43.6l2-2.6l3-2.1l2 0.3l5.2 10l3.6 5l13.2 8.3l5 6.5l1.5 6.2l2.7 24l2.5 10l1.1 13l-0.1 31l-1.2 11l-3.5 15.8l-3.3 8.2l-6.7 9.9l-6.1 5.1l-5.9 3zM446.5 420.6l-2 0.6l-2-0.9l-4-8.8l-7.7-24l-2.2-10l0.1-8l1.6-8l3.2-3.8l3-1.5l7.1 0.3l1.9 1.2l3 3.7l2.2 3.1l1.4 4l2.3 11l1 20l-1.7 12l-3.2 6l-4 3.1z"/><path fill="#ffea00" fill-rule="evenodd" d="M567.5 403.6l-5-0.4l-5-2.6l-3-2.9l-6.3-8.2l-3.7-2.7l-3-1l-10-1.2l-4-2l-3.7-5.1l-1.6-7l0.3-8l4-24l0.6-15l-0.6-11l1.3-6l10.7-17.5l8-10.7l7-6.4l4-1.9l3-0.5l6 1.1l7 3.6l5 4.3l4 6l3.4 10l4.1 20l1.8 17l-0.5 28l-1.6 12l-2.7 11l-3.6 8l-4.9 6.9l-5 4l-6 2.2zM447.5 412.8l-4 0.1l-4-3.9l-3-6.5l-4.6-17l-0.9-8l1-6l3.5-5.5l4-1.9l5 0.9l4 3.6l2.4 4.9l1.9 8l0.7 20l-2.6 8l-3.4 3.3z"/><path fill="#ffdc00" fill-rule="evenodd" d="M565.5 395.5l-6-1.6l-12-9l-15-6.7l-4.4-5.7l-1.9-9l4.1-48l1.9-8l6.3-11.2l8-9.8l7-5.3l7-1.9l6 1.1l5 2.7l4 3.9l3.6 5.5l2.7 7l2.8 11l1.7 10l1 12l-0.9 26l-1.5 11l-2.3 9l-3.2 7l-3.9 5.3l-5 3.6l-5 1.1zM447.5 408.5l-2 0.9l-2-0.1l-2-1.1l-2-2.3l-3.3-7.4l-2.8-12l-0.5-7l1.1-5l2.5-3.9l4-1.9l4 0.8l3 2.7l2 3.5l1.9 6.8l0.5 17l-1.4 5.1l-3 3.9z"/><path fill="#ffcd00" fill-rule="evenodd" d="M567.5 387.7l-4 0.3l-4-1l-22-11.6l-3-2.4l-2.5-3.5l-2.3-8l0.9-19l3.2-24l2.3-9l4.4-8.3l6-7.4l6-4.6l6-1.9l5 0.3l4 1.6l4 3.1l3.3 4.2l2.4 5l2.2 7l2.7 17l0.1 21l-1.2 14l-1.8 10l-1.8 6l-2.9 5.5l-3.1 3.5l-3.9 2.2zM444.5 406.6l-3-1l-3-3.5l-1.9-5.6l-2-10l0-5l0.9-4.3l2-3.2l3-1.6l3 0.2l3 2.3l2.4 4.6l1.3 6l0.3 10l-0.6 5l-2.4 4.6l-3 1.5z"/><path fill="#ffbe00" fill-rule="evenodd" d="M565.5 379.8l-3 0.4l-4-0.7l-19-8.3l-3-2.5l-2-3l-2-8.2l0.4-13l1.8-12l2.8-12l3-9l4-7.4l4.8-5.6l5.2-3.4l5-1.2l4 0.4l3 1.3l3 2.6l2.2 3.3l3.4 10l2.1 15l0 16l-3.2 24l-3.4 9l-2.1 2.5l-3 1.8zM445.5 403.5l-3 0.5l-3-2.5l-1.7-4l-1.4-7l-0.4-5l0.7-5l1.8-3.3l3-1.6l2.8 0.9l1.8 2l2.3 7l0.1 12l-1 3.6l-2 2.4z"/><path fill="#ffaf00" fill-rule="evenodd" d="M561.5 367.7l-4 0.4l-6-2.5l-7 1.5l-4-0.8l-2-1.8l-1.4-3l-1.2-5l-0.2-8l0.2-5l2.2-11l3.7-9l6.9-13l3-5l2.8-3l3.9-2l3.1-0.5l2 0.2l1.9 1.3l2.8 5l2.2 9l1.3 17l-0.1 6l-1.3 6l-1.8 5l-3.9 7l0.2 5l-0.7 3l-2.6 3.2zM443.5 401l-2-0.1l-1.4-1.4l-2.5-10l0.6-5l3.3-3.5l2 0.6l1 1.2l1.5 4.7l-0.2 10l-0.8 2l-1.5 1.5z"/><path fill="#ffa000" fill-rule="evenodd" d="M551.5 357.6l-5 0.2l-2-1l-2.1-2.3l-2.1-7l0.4-9l3.6-11l5.2-8.8l5-5.4l3-1.4l2 0.1l3.3 2.5l2.7 5.6l1.8 9.4l-0.3 9l-2.2 7l-3.1 5l-5.2 4.6l-5 2.5zM442.5 396.8l-1-0.3l-1-1.5l-1.2-5.5l0.5-3l1.7-1.2l1.9 1.2l0.5 2l-0.2 6l-1.2 2.3z"/><path fill="#ff8e00" fill-rule="evenodd" d="M554.5 348.7l-4 0.6l-2.8-1.8l-1.8-4l-0.3-5l1.4-6l2.5-5.1l4-4.1l3-0.9l2.4 1.1l2 3l1.1 4l0.2 5l-0.7 4l-1.7 4l-2.3 3.1l-3 2.1z"/><defs><mask id="lm" maskUnits="userSpaceOnUse" x="0" y="0" width="904" height="654"><rect x="0" y="0" width="904" height="654" fill="#fff"/><rect x="-19.5" y="-7.5" width="39.0" height="15" fill="#000" transform="translate(387.4 286.0) rotate(-64.8)"/><rect x="-19.5" y="-7.5" width="39.0" height="15" fill="#000" transform="translate(479.6 247.3) rotate(-33.7)"/><rect x="-19.5" y="-7.5" width="39.0" height="15" fill="#000" transform="translate(654.6 251.5) rotate(-90)"/><rect x="-19.5" y="-7.5" width="39.0" height="15" fill="#000" transform="translate(718.5 280.8) rotate(-73.3)"/><rect x="-19.5" y="-7.5" width="39.0" height="15" fill="#000" transform="translate(334.5 312.7) rotate(-78)"/><rect x="-19.5" y="-7.5" width="39.0" height="15" fill="#000" transform="translate(197.2 355.3) rotate(-42.6)"/><rect x="-19.5" y="-7.5" width="39.0" height="15" fill="#000" transform="translate(458.5 410.5) rotate(-73.4)"/></mask></defs><g mask="url(#lm)" fill="none" stroke="#000" stroke-linejoin="round" shape-rendering="crispEdges"><path stroke-width="1" stroke-dasharray="5.5 3.8" d="M255.3 330.4 253.5 335.9 252.3 344.5 251.0 351.8 249.8 359.1 248.6 368.9 247.4 376.3 249.8 368.9 251.7 364.0 253.5 356.7 254.7 351.8 255.9 343.2 256.6 335.9 255.9 331.0z"/><path stroke-width="2" stroke-dasharray="7 3.5" d="M136.0 401.8 140.4 400.0 144.7 397.8 147.9 395.7 150.1 392.5 153.3 389.3 156.0 386.0 159.2 382.3 162.4 376.9 166.1 373.2 168.8 368.9 172.0 364.1 175.2 359.8 177.9 356.6 181.6 352.3 185.4 346.4 186.2 346.3 190.0 340.0 193.7 331.3 197.5 324.4 201.3 318.8 206.0 311.0 209.8 306.0 212.2 298.5 214.8 291.0 217.2 281.0 219.8 277.2 223.0 275.2 225.5 278.5 228.0 283.5 230.5 288.0 234.0 287.0 238.0 283.5 242.2 279.8 245.5 281.0 248.5 284.8 251.0 286.0 254.8 283.5 258.0 284.0 261.0 287.2 264.8 291.0 268.5 294.8 272.2 299.8 274.0 306.0 274.2 313.5 274.1 325.0 273.5 332.6 272.1 347.1 272.7 353.6 275.3 371.8 274.8 378.2 272.0 386.0 268.0 394.0 267.0 408.8 266.3 420.3 267.0 434.6 270.6 443.3 274.2 447.6 275.6 443.3 277.0 434.6 277.8 426.0 277.0 415.9 276.0 405.0 278.0 395.0 279.5 380.0 280.5 365.0 281.0 345.0 281.5 330.0 282.2 319.0 286.0 314.0 291.0 309.8 297.2 307.2 301.0 302.2 306.0 296.0 311.0 291.0 317.2 286.0 323.5 279.8 328.5 273.5 333.5 270.5 336.0 270.0 339.0 276.0 339.8 283.5 340.5 291.0 341.0 296.0 340.5 305.0 339.0 315.0 335.0 325.0 330.0 333.7 328.9 343.9 325.7 352.5 323.5 356.8 321.4 363.2 319.2 369.6 317.1 376.0 313.9 381.4 310.7 380.3 308.5 378.7 304.3 375.5 301.0 375.5 299.4 378.2 298.4 383.5 297.3 387.3 293.5 390.0 290.3 390.0 289.8 383.5 289.5 374.9 288.7 367.5 287.7 361.0 286.0 360.0 283.9 364.3"/><path stroke-width="2" stroke-dasharray="7 3.5" d="M136.0 407.0 140.4 406.4 144.7 405.3 150.1 402.1 154.3 398.4 157.6 394.6 160.8 391.4 165.0 387.1 168.3 382.8 173.6 377.5 176.8 375.3 181.1 371.0 190.0 364.0 200.0 356.0 210.0 346.0 216.8 338.3 217.4 342.0 215.6 348.1 213.1 351.8 210.7 356.7 208.2 360.4 205.8 367.7 209.5 368.9 214.3 371.4 216.8 375.0 219.2 377.5 221.7 381.2 222.3 386.1 224.1 392.2 227.8 391.0 230.3 388.5 232.7 384.8 236.4 382.4 238.2 381.2 238.8 388.5 237.6 393.4 236.4 398.3 237.6 402.0 241.3 398.3 246.2 394.6 249.8 388.5 251.0 391.0 253.5 395.8 258.3 403.0 263.4 405.9"/><path stroke-width="2" stroke-dasharray="7 3.5" d="M136.0 326.3 139.8 332.5 142.3 338.2 144.2 342.7 145.8 347.5 147.9 355.0 151.1 356.0 156.5 356.0 159.7 358.7 160.8 362.5 160.2 366.2 158.1 371.0 156.5 375.9 154.3 380.7 151.7 385.0 147.9 390.3 144.7 394.0 140.4 394.6 136.0 394.6"/><path stroke-width="2" stroke-dasharray="7 3.5" d="M190.0 398.9 193.1 402.0 192.5 408.3 190.0 415.8 186.8 423.4 184.9 429.6 184.3 435.9 184.7 442.2 185.2 448.5 185.6 454.7 184.9 459.8 183.1 464.1 180.5 463.5 178.0 460.4 176.8 454.7 176.8 448.5 176.8 442.2 176.2 434.7 176.2 428.4 177.4 422.1 179.3 416.5 181.8 409.6 184.3 404.5 187.4 400.2z"/><path stroke-width="2" stroke-dasharray="7 3.5" d="M767.0 313.5 762.0 312.0 760.8 311.5 760.2 306.0 759.5 299.1 758.8 292.3 758.8 285.4 758.1 278.5 756.7 272.3 753.3 267.5 747.8 262.0 742.3 257.2 736.8 253.8 731.3 251.7 726.5 252.4 725.8 257.9 722.0 267.0 717.0 277.0 712.0 287.0 709.3 296.4 710.6 305.5 708.5 313.8 707.4 318.0 707.5 320.0 705.0 327.5 702.5 337.5 700.0 347.5 695.0 357.5 687.5 365.0 683.0 372.5 681.8 382.5 681.2 392.5 681.8 402.5 683.8 410.0 687.5 415.0 695.0 417.0 705.0 417.0 715.0 415.8 725.0 412.5 735.0 407.5 745.0 402.5 752.5 400.0 757.5 399.5 761.2 401.2 763.8 403.0 767.5 403.5"/><path stroke-width="1" stroke-dasharray="5.5 3.8" d="M136.0 207.8 146.0 214.0 156.0 221.5 163.0 229.0 168.5 239.8 174.8 251.0 179.8 254.0 184.8 253.5 189.8 251.0 196.0 244.8 201.0 238.5 207.2 236.0 211.0 237.2 217.2 240.5 223.5 243.0 225.5 235.5 227.2 230.5 231.0 232.2 236.0 234.8 241.0 235.2 246.0 237.2 249.8 235.5 253.5 231.0 258.5 228.5 264.8 228.5 271.0 230.0 276.0 233.5 280.5 235.5 283.5 231.0 288.5 226.5 292.2 229.8 293.5 238.5 297.2 245.5 301.0 241.5 304.0 240.5 304.0 247.2 302.5 257.2 306.0 257.2 311.0 252.2 317.2 246.0 323.5 239.8 329.8 236.0 336.0 232.2 343.5 230.0 351.0 229.0 357.5 228.5 365.0 227.8 373.0 227.8 374.5 236.0 373.0 246.0 371.2 256.0 368.8 266.0 366.2 276.0 363.8 286.0 361.2 296.0 358.8 306.0 356.2 313.5 353.3 318.9 350.8 327.6 349.6 337.7 347.0 347.7 343.3 360.3 341.4 370.3 342.4 380.0 341.7 388.6 338.9 395.8 335.3 403.0 329.5 410.2 320.9 415.2 312.3 420.3 306.5 424.6 302.2 430.3 296.4 434.6 292.1 437.5 289.3 443.3 288.1 451.9 288.1 460.5 285.0 466.3 279.9 464.8 275.6 462.0 272.0 457.6 268.4 453.3 266.3 441.8 264.8 433.2 262.7 426.0 260.5 421.7 256.2 417.4 251.9 413.0 249.0 410.8 242.6 412.1 237.6 412.7 232.6 411.4 227.6 408.9 222.6 408.3 216.3 410.8 213.8 413.3 212.5 420.9 211.9 429.6 211.3 436.0 210.0 442.2 207.5 444.7 202.5 448.5 197.5 448.5 195.0 453.5 193.0 457.2 190.0 463.5 187.4 466.0 182.4 468.5 177.4 467.9 173.6 464.8 169.9 459.8 167.4 454.7 164.9 450.3 162.3 445.3 159.2 441.0 154.8 439.4 147.9 439.7 144.8 436.5 142.9 431.5 139.5 426.0 136.0 424.6"/><path stroke-width="1" stroke-dasharray="5.5 3.8" d="M372.5 433.8 376.2 436.2 378.1 441.2 378.8 448.8 376.2 453.8 371.9 457.5 368.1 456.9 364.4 453.8 362.5 448.8 364.4 440.0 368.8 434.4z"/><path stroke-width="1" stroke-dasharray="5.5 3.8" d="M767.5 204.0 763.8 203.0 757.5 201.0 750.0 199.8 740.0 199.8 730.0 199.8 720.0 201.0 710.0 204.8 703.8 209.8 696.2 217.2 690.0 223.5 688.0 231.0 688.8 241.0 690.0 249.8 688.8 257.2 683.8 263.5 681.2 273.5 679.5 286.0 677.5 298.5 675.5 311.0 674.5 319.0 672.5 325.0 670.0 335.0 667.5 345.0 664.5 355.0 663.0 365.0 662.5 377.5 662.0 390.0 662.0 402.5 662.5 415.0 665.0 425.0 670.0 432.5 677.5 440.0 685.0 446.2 692.5 451.2 700.0 452.0 710.0 450.0 720.0 446.2 730.0 441.2 740.0 436.2 750.0 431.2 757.5 427.5 767.5 425.0"/><path stroke-width="2" d="M413.8 157.0 412.5 166.0 411.2 178.0 415.5 183.5 419.5 191.0 419.5 201.0 417.5 211.0 415.5 221.0 412.5 231.0 410.0 241.0 406.2 248.5 402.5 254.8 398.8 263.5 390.0 278.0 383.0 292.0 378.4 307.6 374.0 317.6 369.0 327.6 365.2 337.7 363.4 346.5 364.0 355.2 363.2 367.5 360.7 375.0 358.8 385.0 358.8 395.0 361.3 402.7 363.8 407.5 365.6 415.0 370.0 415.6 373.1 412.5 375.6 407.5 376.9 405.0 378.1 408.8 380.0 415.0 382.5 421.2 385.6 427.5 388.1 433.8 389.8 440.0 390.0 450.0 389.8 458.8 389.4 465.0 389.0 472.5"/><path stroke-width="2" d="M136.0 456.0 141.0 456.6 146.0 459.0 150.4 462.3 153.6 466.0 155.4 469.8 156.0 472.5"/><path stroke-width="2" d="M200.6 472.5 201.2 466.0 204.4 461.0 208.8 456.0 213.8 449.7 218.8 442.0 223.8 437.0 230.0 432.0 236.4 429.0 242.6 427.0 249.0 426.0 254.8 426.7 258.3 429.6 259.8 434.6 257.6 439.0 253.3 443.3 250.4 447.6 249.0 448.5 246.4 452.2 245.2 458.5 245.8 466.0 246.4 472.5"/><path stroke-width="2" d="M319.4 472.5 320.9 463.4 325.2 456.2 329.5 450.4 331.7 448.7 333.8 451.9 336.7 458.3 338.9 463.4 339.6 472.5"/><path stroke-width="2" d="M647.5 157.0 648.0 171.0 647.5 186.0 648.0 203.5 651.2 213.5 654.5 223.5 655.0 231.0 654.8 253.5 654.5 276.0 653.8 288.5 652.5 301.0 651.2 313.5 650.5 319.0 650.0 330.0 647.5 345.0 646.2 360.0 645.0 375.0 644.5 390.0 643.8 405.0 643.0 420.0 642.5 435.0 642.5 450.0 643.0 465.0 645.0 472.5"/><path stroke-width="2" d="M767.5 443.0 763.0 443.0 759.4 444.8 757.0 449.4 756.6 454.9 757.5 460.4 760.3 463.1 762.1 465.9 762.6 472.5"/><path stroke-width="1" d="M632.5 319.0 632.5 311.0 633.0 296.0 633.2 281.0 633.0 266.0 632.0 253.5 630.0 241.0 626.2 228.5 621.2 219.8 615.0 211.0 607.5 201.0 600.0 193.5 590.0 187.2 580.0 182.2 570.0 179.0 560.0 178.5 560.0 179.0 547.5 179.0 535.0 180.5 520.0 184.0 505.0 188.5 490.0 194.8 477.5 202.2 467.5 209.8 457.5 218.5 450.0 227.2 443.8 236.0 437.5 246.0 432.5 254.8 427.5 266.0 420.0 281.0 413.0 291.0 406.6 300.0 399.0 310.0 394.0 318.9 391.0 327.6 389.7 337.7 389.0 347.7 389.5 357.8 392.8 361.5 396.4 362.5 398.3 367.5 399.6 375.0 399.6 382.6 396.4 386.3 393.9 392.6 392.0 398.9 390.8 405.2 391.2 412.7 393.3 420.2 395.2 427.8 397.1 435.3 398.1 447.5 399.4 453.8 402.5 460.0 407.5 464.4 413.8 465.0 420.0 463.8 422.5 460.0 425.0 452.5 426.2 441.2 427.5 432.5 428.8 428.1 430.0 430.0 432.5 437.5 435.0 446.2 437.5 452.5 441.2 456.2 445.0 455.6 448.8 452.5 453.8 453.1 457.5 451.2 460.0 448.8 461.9 442.5 463.0 437.5 468.8 427.4 474.5 420.3 480.3 414.5 486.0 410.2 489.6 408.8 490.3 413.1 487.4 420.3 483.1 427.4 477.4 434.6 474.5 440.4 473.8 447.6 475.9 453.3 478.8 450.4 481.7 440.4 484.6 436.8 486.7 438.9 487.4 447.6 488.9 454.8 494.6 455.5 500.4 456.2 506.1 453.3 511.9 447.6 517.6 437.5 523.4 428.9 527.7 423.8 532.0 422.4 536.3 424.6 539.2 431.8 542.1 438.9 546.4 443.3 552.1 446.1 557.9 448.3 563.6 449.7 569.4 451.1 580.0 452.5 590.0 451.2 600.0 447.5 608.8 442.5 616.2 435.0 622.5 425.0 625.5 415.0 627.5 405.0 628.8 390.0 630.0 375.0 630.5 360.0 631.2 345.0 632.5 330.0 632.5 315.0z"/><path stroke-width="2" d="M420.0 319.0 425.0 311.0 432.5 301.0 440.0 292.2 447.5 283.5 455.0 273.5 460.0 263.5 500.0 234.0 507.3 229.4 518.3 224.9 529.4 223.0 536.7 215.7 544.0 207.4 551.4 202.8 558.7 201.4 566.0 202.5 573.4 205.6 578.9 210.2 584.4 217.5 588.1 226.7 590.8 235.9 595.4 243.2 602.7 250.5 608.2 259.7 610.1 268.9 611.9 281.7 613.0 292.7 613.8 311.0 614.5 319.0 613.8 330.0 613.2 345.0 612.5 360.0 612.0 375.0 611.2 390.0 608.8 402.5 603.8 412.5 597.5 420.0 590.0 427.5 582.5 432.5 575.0 435.5 567.5 436.2 562.2 434.6 555.0 431.0 549.3 426.0 545.0 418.8 540.6 410.2 536.3 405.2 530.6 408.0 523.4 414.5 516.2 421.7 510.4 424.6 506.1 421.7 503.3 413.1 501.8 404.4 502.5 394.4 501.8 386.0 496.8 387.3 491.1 389.4 487.6 385.8 484.1 377.4 482.0 369.0 479.2 361.9 475.0 359.8 470.0 360.5 466.5 364.7 465.1 373.2 465.8 388.7 453.5 432.5 449.1 435.3 444.1 437.8 440.3 435.3 438.5 430.3 436.6 422.7 434.1 416.5 431.6 410.2 429.0 403.9 425.3 397.6 421.5 391.4 416.5 383.8 411.5 375.0 409.0 365.0 408.2 355.2 408.3 346.5 409.5 337.7 412.0 331.4 415.5 325.0z"/><path stroke-width="2" d="M401.2 410.0 405.0 406.9 408.8 406.9 412.5 410.0 416.2 416.2 418.8 423.8 419.4 432.5 419.4 442.5 419.4 451.2 417.5 453.8 413.8 453.8 410.0 450.0 406.2 442.5 403.8 435.0 401.9 425.0 401.2 416.2z"/><path stroke-width="1" d="M526.3 300.0 522.1 305.6 521.4 309.9 522.8 316.9 524.9 325.3 524.9 333.8 523.5 342.2 521.4 353.5 518.6 361.9 516.5 370.4 515.8 378.8 517.2 385.8 519.3 392.0 524.8 394.4 530.6 392.9 536.3 390.1 542.1 388.6 545.7 390.8 547.8 397.3 550.7 404.4 555.0 410.2 560.8 414.5 566.5 415.2 572.3 413.1 575.0 411.2 582.5 405.0 588.8 395.0 592.5 385.0 595.0 372.5 596.2 360.0 597.0 345.0 596.2 330.0 595.0 315.0 592.5 306.0 591.2 293.5 590.0 281.0 589.0 276.2 584.4 269.8 577.0 265.2 569.7 261.5 566.0 254.2 562.4 245.0 558.7 244.1 555.0 248.7 550.4 257.9 544.0 270.7 536.7 283.6 529.4 296.4z"/><path stroke-width="1" d="M430.0 360.0 436.2 355.0 445.0 356.2 451.2 365.0 453.8 375.0 454.5 385.0 455.0 395.0 455.1 404.0 454.1 412.0 451.0 418.0 447.0 421.5 442.8 422.7 440.3 417.7 437.8 410.2 435.3 401.4 432.8 392.6 430.3 385.1 428.4 376.3 429.0 367.5z"/><path stroke-width="1" d="M506.6 337.3 508.3 340.8 507.8 346.4 505.2 353.5 503.1 357.7 501.3 356.3 502.1 349.3 504.1 342.2z"/><path stroke-width="2" d="M541.8 323.9 547.4 314.1 551.0 306.0 555.0 301.9 560.5 299.2 565.1 300.1 567.9 304.7 570.0 314.1 571.4 328.1 571.4 339.4 568.5 349.3 562.9 356.3 555.9 361.9 547.4 366.8 541.1 367.5 537.6 364.7 535.5 356.3 535.5 345.0 537.6 333.8z"/><path stroke-width="2" d="M441.6 380.7 445.4 384.5 446.0 391.4 445.4 398.9 442.8 402.0 439.7 400.2 438.5 395.1 437.8 390.1 437.8 385.1z"/></g><text transform="translate(387.4 286.0) rotate(-64.8)" x="0" y="5.3" font-size="15" stroke="#000" stroke-width="0.6" font-family="Liberation Sans, sans-serif" text-anchor="middle" textLength="36.0" lengthAdjust="spacing">0.00</text><text transform="translate(479.6 247.3) rotate(-33.7)" x="0" y="5.3" font-size="15" stroke="#000" stroke-width="0.6" font-family="Liberation Sans, sans-serif" text-anchor="middle" textLength="36.0" lengthAdjust="spacing">10.0</text><text transform="translate(654.6 251.5) rotate(-90)" x="0" y="5.3" font-size="15" stroke="#000" stroke-width="0.6" font-family="Liberation Sans, sans-serif" text-anchor="middle" textLength="36.0" lengthAdjust="spacing">0.00</text><text transform="translate(718.5 280.8) rotate(-73.3)" x="0" y="5.3" font-size="15" stroke="#000" stroke-width="0.6" font-family="Liberation Sans, sans-serif" text-anchor="middle" textLength="36.0" lengthAdjust="spacing">10.0</text><text transform="translate(334.5 312.7) rotate(-78)" x="0" y="5.3" font-size="15" stroke="#000" stroke-width="0.6" font-family="Liberation Sans, sans-serif" text-anchor="middle" textLength="36.0" lengthAdjust="spacing">10.0</text><text transform="translate(197.2 355.3) rotate(-42.6)" x="0" y="5.3" font-size="15" stroke="#000" stroke-width="0.6" font-family="Liberation Sans, sans-serif" text-anchor="middle" textLength="36.0" lengthAdjust="spacing">10.0</text><text transform="translate(458.5 410.5) rotate(-73.4)" x="0" y="5.3" font-size="15" stroke="#000" stroke-width="0.6" font-family="Liberation Sans, sans-serif" text-anchor="middle" textLength="36.0" lengthAdjust="spacing">10.0</text><path d="M136 157H768V473H136Z" fill="none" stroke="#000" stroke-width="2"/><path d="M160 158h1v4h-1zM160 468h1v4h-1zM184 158h2v8h-2zM184 464h2v8h-2zM210 158h1v4h-1zM210 468h1v4h-1zM235 158h2v8h-2zM235 464h2v8h-2zM261 158h1v4h-1zM261 468h1v4h-1zM286 158h2v8h-2zM286 464h2v8h-2zM312 158h1v4h-1zM312 468h1v4h-1zM337 158h2v8h-2zM337 464h2v8h-2zM363 158h1v4h-1zM363 468h1v4h-1zM387 158h2v8h-2zM387 464h2v8h-2zM414 158h1v4h-1zM414 468h1v4h-1zM438 158h2v8h-2zM438 464h2v8h-2zM464 158h1v4h-1zM464 468h1v4h-1zM489 158h2v8h-2zM489 464h2v8h-2zM515 158h1v4h-1zM515 468h1v4h-1zM540 158h2v8h-2zM540 464h2v8h-2zM566 158h1v4h-1zM566 468h1v4h-1zM591 158h2v8h-2zM591 464h2v8h-2zM617 158h1v4h-1zM617 468h1v4h-1zM641 158h2v8h-2zM641 464h2v8h-2zM668 158h1v4h-1zM668 468h1v4h-1zM692 158h2v8h-2zM692 464h2v8h-2zM718 158h1v4h-1zM718 468h1v4h-1zM743 158h2v8h-2zM743 464h2v8h-2zM137 459h4v1h-4zM763 459h4v1h-4zM137 443h4v1h-4zM763 443h4v1h-4zM137 427h4v1h-4zM763 427h4v1h-4zM137 411h4v1h-4zM763 411h4v1h-4zM137 394h8v2h-8zM759 394h8v2h-8zM137 379h4v1h-4zM763 379h4v1h-4zM137 363h4v1h-4zM763 363h4v1h-4zM137 347h4v1h-4zM763 347h4v1h-4zM137 331h4v1h-4zM763 331h4v1h-4zM137 314h8v2h-8zM759 314h8v2h-8zM137 299h4v1h-4zM763 299h4v1h-4zM137 283h4v1h-4zM763 283h4v1h-4zM137 267h4v1h-4zM763 267h4v1h-4zM137 251h4v1h-4zM763 251h4v1h-4zM137 234h8v2h-8zM759 234h8v2h-8zM137 219h4v1h-4zM763 219h4v1h-4zM137 203h4v1h-4zM763 203h4v1h-4zM137 187h4v1h-4zM763 187h4v1h-4zM137 171h4v1h-4zM763 171h4v1h-4z" fill="#000"/><g font-size="28" font-family="Liberation Sans, sans-serif"><text transform="translate(341.10 113) scale(0.921 1)">v</text><text x="355.40" y="113">e</text><text transform="translate(371.33 113) scale(1.350 1)">r</text><text transform="translate(386.45 113) scale(0.879 1)">t</text><text x="395.03" y="113">i</text><text transform="translate(402.39 113) scale(0.905 1)">c</text><text transform="translate(419.00 113) scale(0.893 1)">a</text><text x="437.38" y="113">l</text><text transform="translate(459.00 113) scale(0.921 1)">v</text><text x="474.00" y="113">e</text><text x="489.88" y="113">l</text><text x="497.78" y="113">o</text><text x="515.67" y="113">c</text><text x="531.58" y="113">i</text><text transform="translate(540.30 113) scale(1.058 1)">t</text><text transform="translate(549.60 113) scale(0.957 1)">y</text></g><g font-size="23" font-family="Liberation Sans, sans-serif"><text transform="translate(375.39 546.6) scale(0.884 1)">X</text><text transform="translate(409.00 546.6) scale(1.092 1)">c</text><text transform="translate(422.22 546.6) scale(1.069 1)">o</text><text transform="translate(436.02 546.6) scale(1.069 1)">o</text><text transform="translate(449.70 546.6) scale(1.304 1)">r</text><text transform="translate(460.20 546.6) scale(0.976 1)">d</text><text x="473.65" y="546.6">i</text><text transform="translate(478.80 546.6) scale(1.056 1)">n</text><text transform="translate(493.92 546.6) scale(0.853 1)">a</text><text transform="translate(507.70 546.6) scale(1.321 1)">t</text><text x="516.40" y="546.6">e</text></g><rect x="391" y="539" width="15.10" height="1.80" fill="#000"/><g transform="translate(90.7 390.4) rotate(-90)" font-size="23" font-family="Liberation Sans, sans-serif"><text transform="translate(-0.65 0) scale(0.941 1)">Z</text><text transform="translate(32.96 0) scale(1.021 1)">c</text><text transform="translate(44.91 0) scale(1.078 1)">o</text><text transform="translate(58.66 0) scale(1.132 1)">o</text><text transform="translate(74.35 0) scale(1.350 1)">r</text><text transform="translate(85.75 0) scale(1.034 1)">d</text><text x="99.70" y="0">i</text><text transform="translate(104.22 0) scale(1.170 1)">n</text><text transform="translate(119.13 0) scale(0.945 1)">a</text><text transform="translate(132.21 0) scale(1.271 1)">t</text><text transform="translate(139.14 0) scale(1.045 1)">e</text></g><rect x="81.9" y="360.9" width="1.90" height="15.10" fill="#000"/><g font-size="19" font-family="Liberation Sans, sans-serif"><text transform="translate(304.01 592.6) scale(0.827 1)">C</text><text transform="translate(314.98 592.6) scale(0.859 1)">O</text><text transform="translate(327.07 592.6) scale(0.940 1)">N</text><text transform="translate(339.85 592.6) scale(0.914 1)">T</text><text transform="translate(349.89 592.6) scale(0.851 1)">O</text><text transform="translate(361.40 592.6) scale(0.923 1)">U</text><text transform="translate(373.16 592.6) scale(0.883 1)">R</text><text x="393.24" y="592.6">I</text><text transform="translate(397.54 592.6) scale(1.090 1)">N</text><text transform="translate(411.05 592.6) scale(0.914 1)">T</text><text transform="translate(421.11 592.6) scale(0.852 1)">E</text><text transform="translate(431.06 592.6) scale(0.883 1)">R</text><text transform="translate(442.13 592.6) scale(0.899 1)">V</text><text transform="translate(452.30 592.6) scale(0.837 1)">A</text><text transform="translate(463.30 592.6) scale(0.789 1)">L</text><text transform="translate(479.53 592.6) scale(1.332 1)">=</text><text x="503.55" y="592.6">5</text><text x="513.69" y="592.6">.</text><text x="518.75" y="592.6">0</text><text x="529.75" y="592.6">0</text><text x="540.85" y="592.6">0</text><text transform="translate(551.49 592.6) scale(0.794 1)">E</text><text transform="translate(563.12 592.6) scale(1.343 1)">+</text><text x="578.15" y="592.6">0</text><text x="589.25" y="592.6">0</text></g><g font-size="18" font-family="Liberation Sans, sans-serif" stroke="#000" stroke-width="0.12"><text transform="translate(179.56 494.8) scale(1.225 1)">4</text><text transform="translate(230.13 494.8) scale(1.212 1)">8</text><text transform="translate(276.42 494.8) scale(0.749 1)">1</text><text transform="translate(285.64 494.8) scale(1.292 1)">2</text><text transform="translate(327.75 494.8) scale(0.801 1)">1</text><text transform="translate(337.59 494.8) scale(1.123 1)">6</text><text transform="translate(376.95 494.8) scale(1.280 1)">2</text><text transform="translate(388.79 494.8) scale(1.123 1)">0</text><text transform="translate(427.69 494.8) scale(1.280 1)">2</text><text transform="translate(439.96 494.8) scale(1.057 1)">4</text><text transform="translate(478.43 494.8) scale(1.280 1)">2</text><text transform="translate(490.25 494.8) scale(1.147 1)">8</text><text transform="translate(529.42 494.8) scale(1.253 1)">3</text><text transform="translate(540.77 494.8) scale(1.171 1)">2</text><text transform="translate(580.16 494.8) scale(1.253 1)">3</text><text transform="translate(591.51 494.8) scale(1.171 1)">6</text><text transform="translate(631.38 494.8) scale(1.155 1)">4</text><text transform="translate(642.49 494.8) scale(1.123 1)">0</text><text transform="translate(682.18 494.8) scale(1.166 1)">4</text><text transform="translate(693.72 494.8) scale(1.068 1)">4</text><text transform="translate(732.86 494.8) scale(1.155 1)">4</text><text transform="translate(743.95 494.8) scale(1.147 1)">8</text></g><g font-size="19" font-family="Liberation Sans, sans-serif" stroke="#000" stroke-width="0.12"><text transform="translate(104.48 240.8) scale(0.700 1)">1</text><text transform="translate(115.07 240.8) scale(1.096 1)">5</text></g><g font-size="19" font-family="Liberation Sans, sans-serif" stroke="#000" stroke-width="0.12"><text transform="translate(104.48 320.8) scale(0.700 1)">1</text><text transform="translate(115.07 320.8) scale(1.096 1)">0</text></g><g font-size="19" font-family="Liberation Sans, sans-serif" stroke="#000" stroke-width="0.12"><text transform="translate(115.07 400.8) scale(1.096 1)">5</text></g><g font-size="18.5" font-family="Liberation Sans, sans-serif" stroke="#000" stroke-width="0.2"><text transform="translate(47.05 506.4) scale(0.852 1)">(</text><text transform="translate(53.94 506.4) scale(1.204 1)">×</text><text transform="translate(66.32 506.4) scale(0.867 1)">1</text><text transform="translate(77.73 506.4) scale(1.036 1)">0</text><text transform="translate(89.23 506.4) scale(1.036 1)">0</text><text transform="translate(100.73 506.4) scale(1.036 1)">0</text><text transform="translate(119.06 506.4) scale(1.112 1)">m</text><text transform="translate(138.22 506.4) scale(0.956 1)">)</text></g><g font-size="18.5" font-family="Liberation Sans, sans-serif" stroke="#000" stroke-width="0.2"><text transform="translate(683.40 517.4) scale(1.081 1)">(</text><text transform="translate(691.06 517.4) scale(1.265 1)">×</text><text transform="translate(703.51 517.4) scale(0.805 1)">1</text><text transform="translate(714.88 517.4) scale(1.104 1)">0</text><text transform="translate(726.38 517.4) scale(1.104 1)">0</text><text transform="translate(737.88 517.4) scale(1.104 1)">0</text><text transform="translate(757.36 517.4) scale(1.112 1)">m</text><text transform="translate(775.95 517.4) scale(0.832 1)">)</text></g><rect x="315" y="608" width="274" height="20" fill="#000"/><rect x="317" y="610" width="2" height="16" fill="#8c00c8"/><rect x="321" y="610" width="1" height="16" fill="#7800c8"/><rect x="324" y="610" width="2" height="16" fill="#6400c8"/><rect x="328" y="610" width="1" height="16" fill="#4600d0"/><rect x="331" y="610" width="1" height="16" fill="#1e00de"/><rect x="334" y="610" width="2" height="16" fill="#0802e8"/><rect x="338" y="610" width="1" height="16" fill="#0208ee"/><rect x="341" y="610" width="2" height="16" fill="#000ef1"/><rect x="345" y="610" width="1" height="16" fill="#0015f3"/><rect x="348" y="610" width="1" height="16" fill="#001cf5"/><rect x="351" y="610" width="2" height="16" fill="#0023f8"/><rect x="355" y="610" width="1" height="16" fill="#002afa"/><rect x="358" y="610" width="2" height="16" fill="#0031fc"/><rect x="361" y="610" width="2" height="16" fill="#0038fe"/><rect x="365" y="610" width="1" height="16" fill="#004dff"/><rect x="368" y="610" width="2" height="16" fill="#006eff"/><rect x="372" y="610" width="1" height="16" fill="#007bff"/><rect x="375" y="610" width="1" height="16" fill="#0089ff"/><rect x="378" y="610" width="2" height="16" fill="#0096ff"/><rect x="382" y="610" width="1" height="16" fill="#00a1ff"/><rect x="385" y="610" width="2" height="16" fill="#00acff"/><rect x="389" y="610" width="1" height="16" fill="#00beff"/><rect x="392" y="610" width="1" height="16" fill="#00d0ff"/><rect x="395" y="610" width="2" height="16" fill="#00e1ff"/><rect x="399" y="610" width="1" height="16" fill="#00f0ff"/><rect x="402" y="610" width="2" height="16" fill="#00ffff"/><rect x="406" y="610" width="1" height="16" fill="#00ffea"/><rect x="409" y="610" width="1" height="16" fill="#00ffd4"/><rect x="412" y="610" width="2" height="16" fill="#00ffc4"/><rect x="416" y="610" width="1" height="16" fill="#00ffb4"/><rect x="419" y="610" width="2" height="16" fill="#00fea1"/><rect x="422" y="610" width="2" height="16" fill="#00fc8e"/><rect x="426" y="610" width="1" height="16" fill="#00fc7c"/><rect x="429" y="610" width="2" height="16" fill="#00fd69"/><rect x="433" y="610" width="1" height="16" fill="#00fe58"/><rect x="436" y="610" width="1" height="16" fill="#00fe48"/><rect x="439" y="610" width="2" height="16" fill="#00fe3d"/><rect x="443" y="610" width="1" height="16" fill="#00fe32"/><rect x="446" y="610" width="2" height="16" fill="#00fc24"/><rect x="450" y="610" width="1" height="16" fill="#00fa16"/><rect x="453" y="610" width="1" height="16" fill="#00f70a"/><rect x="456" y="610" width="2" height="16" fill="#06f800"/><rect x="460" y="610" width="1" height="16" fill="#1af900"/><rect x="463" y="610" width="2" height="16" fill="#2dfa00"/><rect x="467" y="610" width="1" height="16" fill="#3efa00"/><rect x="470" y="610" width="1" height="16" fill="#50fa00"/><rect x="473" y="610" width="2" height="16" fill="#62fa00"/><rect x="477" y="610" width="1" height="16" fill="#73fa00"/><rect x="480" y="610" width="2" height="16" fill="#86fa00"/><rect x="483" y="610" width="2" height="16" fill="#9afa00"/><rect x="487" y="610" width="1" height="16" fill="#adfb00"/><rect x="490" y="610" width="2" height="16" fill="#c0fb00"/><rect x="494" y="610" width="1" height="16" fill="#d0fb00"/><rect x="497" y="610" width="1" height="16" fill="#e0fc00"/><rect x="500" y="610" width="2" height="16" fill="#f0fc00"/><rect x="504" y="610" width="1" height="16" fill="#fff800"/><rect x="507" y="610" width="2" height="16" fill="#ffea00"/><rect x="511" y="610" width="1" height="16" fill="#ffdc00"/><rect x="514" y="610" width="1" height="16" fill="#ffcd00"/><rect x="517" y="610" width="2" height="16" fill="#ffbe00"/><rect x="521" y="610" width="1" height="16" fill="#ffaf00"/><rect x="524" y="610" width="2" height="16" fill="#ffa000"/><rect x="527" y="610" width="2" height="16" fill="#ff8e00"/><rect x="531" y="610" width="1" height="16" fill="#ff7d00"/><rect x="534" y="610" width="2" height="16" fill="#ff6c00"/><rect x="538" y="610" width="1" height="16" fill="#ff5a00"/><rect x="541" y="610" width="1" height="16" fill="#ff4600"/><rect x="544" y="610" width="2" height="16" fill="#ff3200"/><rect x="548" y="610" width="1" height="16" fill="#ff1e00"/><rect x="551" y="610" width="2" height="16" fill="#ff0d00"/><rect x="555" y="610" width="1" height="16" fill="#ff0202"/><rect x="558" y="610" width="1" height="16" fill="#ff1111"/><rect x="561" y="610" width="2" height="16" fill="#ff2020"/><rect x="565" y="610" width="1" height="16" fill="#ff3030"/><rect x="568" y="610" width="2" height="16" fill="#ff4141"/><rect x="572" y="610" width="1" height="16" fill="#ff5252"/><rect x="575" y="610" width="1" height="16" fill="#ff6464"/><rect x="578" y="610" width="2" height="16" fill="#ff7878"/><rect x="582" y="610" width="1" height="16" fill="#ff8c8c"/><rect x="585" y="610" width="2" height="16" fill="#ffa0a0"/><g font-size="17.5" font-family="Liberation Sans, sans-serif" stroke="#000" stroke-width="0.35"><text transform="translate(339.80 647) scale(1.143 1)">3</text><text transform="translate(348.98 647) scale(1.168 1)">2</text><text transform="translate(394.17 647) scale(0.811 1)">1</text><text transform="translate(402.51 647) scale(1.242 1)">6</text><text transform="translate(446.98 647) scale(1.024 1)">0</text><text transform="translate(496.24 647) scale(0.757 1)">1</text><text transform="translate(504.92 647) scale(1.230 1)">6</text><text transform="translate(549.91 647) scale(1.131 1)">3</text><text transform="translate(558.99 647) scale(1.155 1)">2</text></g><rect x="327.9" y="641" width="11.00" height="1.80" fill="#000"/><rect x="382.1" y="641" width="11.00" height="1.80" fill="#000"/></svg></body></html>
